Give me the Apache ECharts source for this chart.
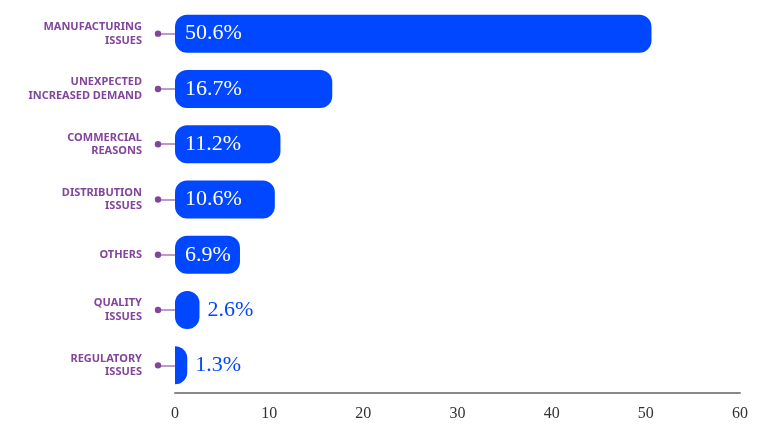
<!DOCTYPE html>
<html><head><meta charset="utf-8">
<style>html,body{margin:0;padding:0;background:#fff}#c{width:771px;height:436px}</style>
<script src="https://cdn.jsdelivr.net/npm/echarts@6/dist/echarts.min.js"></script>
</head><body><div id="c"></div>
<script>
const categories = ["MANUFACTURING\nISSUES","UNEXPECTED\nINCREASED DEMAND","COMMERCIAL\nREASONS","DISTRIBUTION\nISSUES","OTHERS","QUALITY\nISSUES","REGULATORY\nISSUES"];
const values = [50.6, 16.7, 11.2, 10.6, 6.9, 2.6, 1.3];
const xTicks = {min: 0, max: 60, interval: 10};

const BLUE = '#0047FF', PURPLE = '#83449B';
const chart = echarts.init(document.getElementById('c'));
const barData = values.map(v => {
  const d = {value: v};
  if (v < 5) {
    d.label = {position: 'right', color: BLUE, distance: 8};
  }
  if (v < 2) d.itemStyle = {borderRadius: [0, 12, 12, 0]};
  return d;
});
chart.setOption({
  animation: false,
  grid: {left: 175, right: 31, top: 6, bottom: 43},
  xAxis: {
    type: 'value', min: xTicks.min, max: xTicks.max, interval: xTicks.interval,
    splitLine: {show: false},
    axisLine: {show: true, lineStyle: {color: '#888', width: 2}},
    axisTick: {show: false},
    axisLabel: {color: '#333', fontFamily: 'Liberation Serif', fontSize: 16, margin: 13}
  },
  yAxis: {
    type: 'category', data: categories, inverse: true,
    axisLine: {show: false},
    axisTick: {show: true, alignWithLabel: true, length: 17, lineStyle: {color: '#A77BB8', width: 1.5}},
    axisLabel: {color: PURPLE, fontFamily: 'Noto Sans', fontWeight: 'bold', fontSize: 11, lineHeight: 13.5, margin: 33, align: 'right', padding: [7, 0, 0, 0]}
  },
  series: [{
    type: 'bar', data: barData, barWidth: 38,
    itemStyle: {color: BLUE, borderRadius: 12},
    label: {show: true, position: 'insideLeft', distance: 10, color: '#fff', fontFamily: 'Liberation Serif', fontSize: 22,
      formatter: p => p.value.toFixed(1) + '%'}
  }, {
    type: 'custom', clip: false, silent: true,
    data: values.map((v, i) => [0, i]),
    renderItem: (params, api) => {
      const p = api.coord([0, api.value(1)]);
      return {type: 'circle', shape: {cx: p[0] - 17, cy: p[1], r: 3.2}, style: {fill: PURPLE}};
    }
  }]
});
</script></body></html>
